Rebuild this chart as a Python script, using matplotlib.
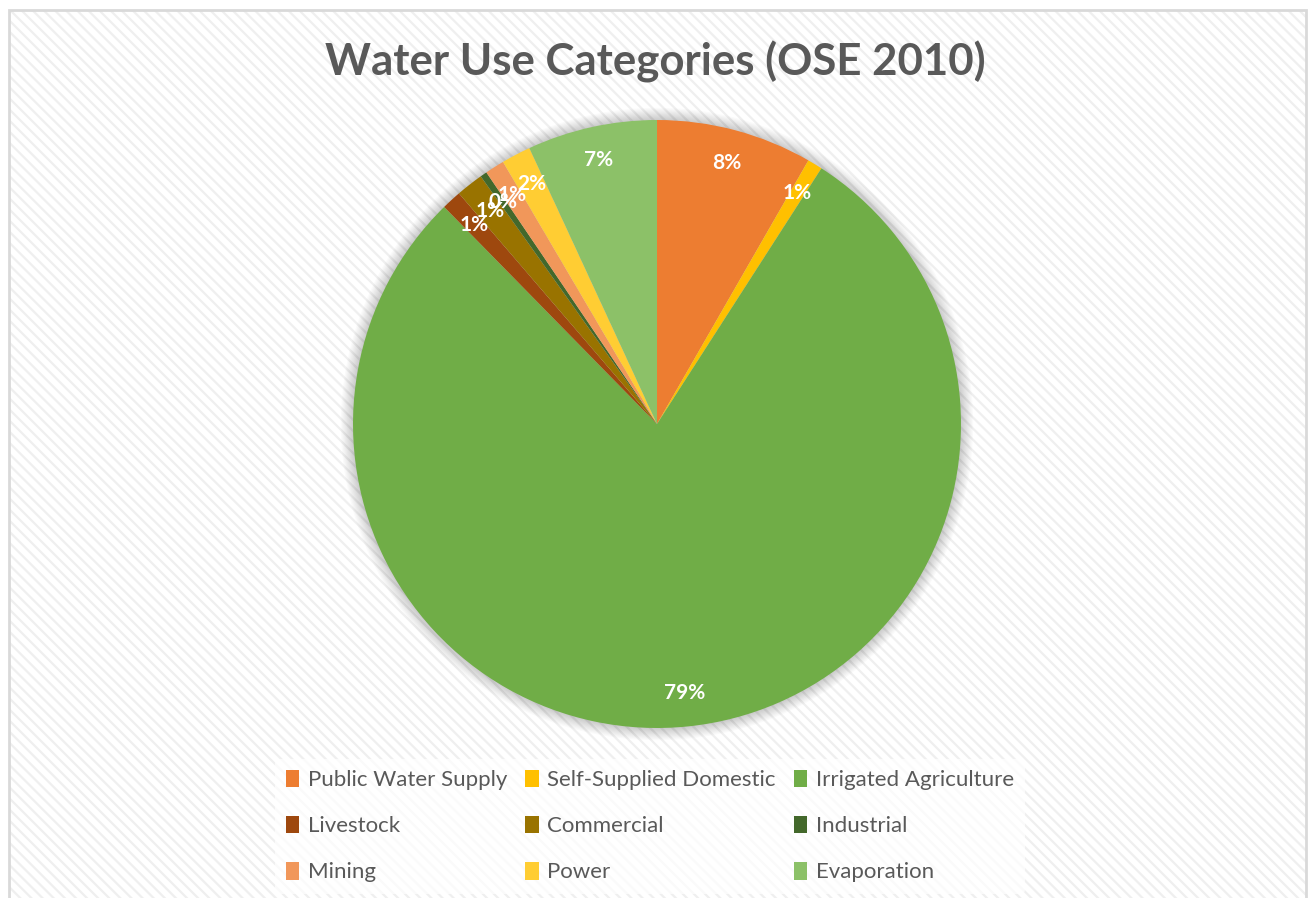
import matplotlib.pyplot as plt
from matplotlib.patches import Rectangle, Circle

categories = ['Public Water Supply', 'Self-Supplied Domestic', 'Irrigated Agriculture',
              'Livestock', 'Commercial', 'Industrial', 'Mining', 'Power', 'Evaporation']
shares = [8.3, 0.8, 78.6, 1.05, 1.45, 0.36, 1.03, 1.56, 6.9]
colors = ['#ED7D31', '#FFC000', '#70AD47', '#9E480E', '#997300', '#43682B',
          '#F1975A', '#FFCD33', '#8CC168']
title = 'Water Use Categories (OSE 2010)'

plt.rcParams['font.family'] = ['Lato', 'DejaVu Sans']
plt.rcParams['hatch.linewidth'] = 1.6

W, H = 1311, 898
fig = plt.figure(figsize=(W / 100, H / 100), dpi=100)
fig.patch.set_facecolor('white')

# chart area: striped background + thin grey border
fig.patches.append(Rectangle((9 / W, 0), (1306 - 9) / W, (H - 10) / H, transform=fig.transFigure,
                             facecolor='white', edgecolor='#efefef', hatch='\\\\\\', linewidth=0, zorder=-10))
fig.patches.append(Rectangle((9 / W, -0.01), (1306 - 9) / W, (H - 10) / H + 0.01, transform=fig.transFigure,
                             fill=False, edgecolor='#d9d9d9', linewidth=2, zorder=-9))

# pie axes, square in pixels
cx, cy, r = 657, 424, 304
ax = fig.add_axes([(cx - r) / W, (H - cy - r) / H, 2 * r / W, 2 * r / H])
ax.set_xlim(-1, 1)
ax.set_ylim(-1, 1)
ax.axis('off')

# soft glow behind the pie
for k in range(10):
    ax.add_patch(Circle((0, 0), 1.0 + 0.004 * (k + 1), color='black', alpha=0.018,
                        lw=0, zorder=0, clip_on=False))

wedges, texts, autotexts = ax.pie(shares, colors=colors, startangle=90, counterclock=False,
                                  autopct='%1.0f%%', pctdistance=0.89, radius=1,
                                  wedgeprops=dict(linewidth=0, zorder=2),
                                  textprops=dict(color='white', fontsize=15, fontweight='bold'))
for t in autotexts:
    t.set_zorder(5)
ax.set_xlim(-1, 1)
ax.set_ylim(-1, 1)

fig.text(0.5, 1 - 62 / H, title, ha='center', va='center', fontsize=31.5,
         fontweight='bold', color='#595959')

# legend, filled row by row like the original
order = [0, 3, 6, 1, 4, 7, 2, 5, 8]
leg = fig.legend([wedges[i] for i in order], [categories[i] for i in order],
                 ncol=3, loc='center', bbox_to_anchor=(650 / W, 1 - 826 / H),
                 fontsize=16, frameon=True, handlelength=0.6, handleheight=0.85,
                 handletextpad=0.4, columnspacing=0.8, labelspacing=1.15,
                 borderpad=0.5)
leg.get_frame().set_facecolor('white')
leg.get_frame().set_alpha(0.7)
leg.get_frame().set_linewidth(0)
for t in leg.get_texts():
    t.set_color('#595959')

fig.savefig('out.png', dpi=100)
